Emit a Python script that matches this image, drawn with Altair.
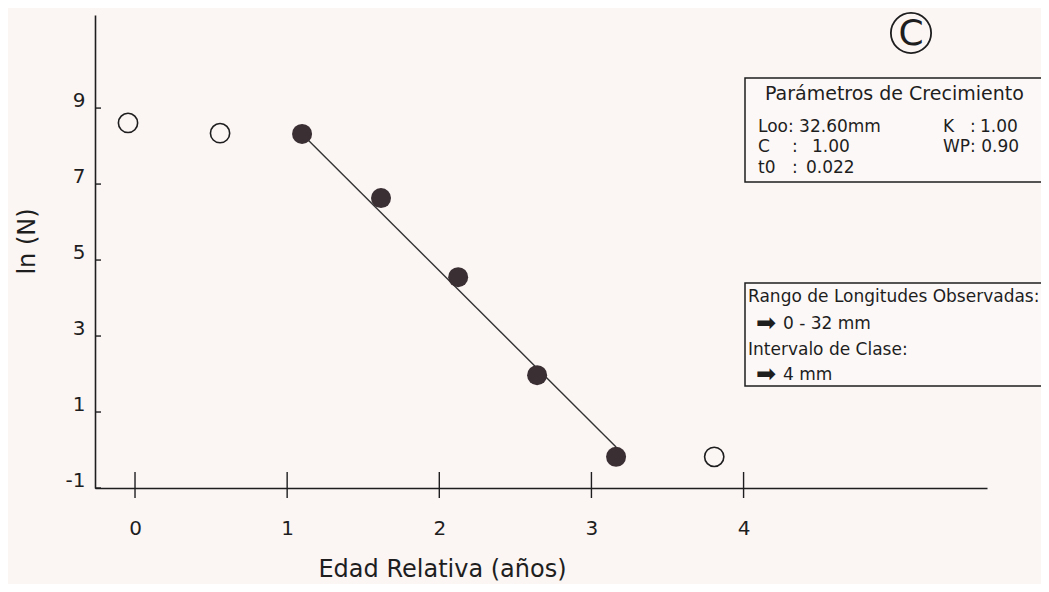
import altair as alt
import pandas as pd

# ---- data ----
open_x = [-0.046, 0.559, 3.807]
open_y = [8.61, 8.34, -0.18]
filled_x = [1.098, 1.617, 2.124, 2.643, 3.162]
filled_y = [8.32, 6.63, 4.55, 1.97, -0.18]
line_x = [1.098, 3.162]
line_y = [8.32, 0.08]
x_ticks = [0, 1, 2, 3, 4]
y_ticks = [-1, 1, 3, 5, 7, 9]

panel_letter = "C"
box1_title = "Parámetros de Crecimiento"
box1_rows = ["Loo: 32.60mm", "C", ":", "1.00", "t0", ":", "0.022",
             "K", ":", "1.00", "WP: 0.90"]
box2_rows = ["Rango de Longitudes Observadas:", "\u27a1\ufe0e", "0 - 32 mm",
             "Intervalo de Clase:", "\u27a1\ufe0e", "4 mm"]

BG = "#fbf5f4"
INK = "#1e1e1e"
FONT = "DejaVu Sans"
W, H = 892, 473

xs = alt.Scale(domain=[-0.263, 5.6], nice=False, zero=False)
ys = alt.Scale(domain=[-1, 11.45], nice=False, zero=False)

open_df = pd.DataFrame({"x": open_x, "y": open_y})
filled_df = pd.DataFrame({"x": filled_x, "y": filled_y})
line_df = pd.DataFrame({"x": line_x, "y": line_y})
xt_df = pd.DataFrame({"v": x_ticks})
yt_df = pd.DataFrame({"v": y_ticks})

xaxis = alt.Axis(values=x_ticks, ticks=False, tickSize=0, grid=False,
                 labelExpr="'' + datum.value",
                 domainColor=INK, domainWidth=1.6, labelFontSize=20,
                 labelFont=FONT, labelColor=INK, labelPadding=30,
                 title="Edad Relativa (años)", titleFont=FONT, titleFontSize=24,
                 titleFontWeight="normal", titleColor=INK, titleX=347, titleY=88,
                 titleBaseline="alphabetic", titleAlign="center")
yaxis = alt.Axis(values=y_ticks, ticks=False, tickSize=0, grid=False,
                 labelExpr="'' + datum.value",
                 domainColor=INK, domainWidth=1.6, labelFontSize=20,
                 labelFont=FONT, labelColor=INK, labelPadding=10, labelOffset=-8,
                 title="ln (N)", titleFont=FONT, titleFontSize=24,
                 titleFontWeight="normal", titleColor=INK, titleX=-68, titleY=226,
                 titleBaseline="middle", titleAlign="center", titleAngle=270)

base_line = alt.Chart(line_df).mark_line(color="#333333", strokeWidth=1.4).encode(
    x=alt.X("x:Q", scale=xs, axis=xaxis),
    y=alt.Y("y:Q", scale=ys, axis=yaxis),
)

xt = alt.Chart(xt_df).mark_rule(color=INK, strokeWidth=1.4).encode(
    x=alt.X("v:Q", scale=xs), y=alt.value(H - 16), y2=alt.value(H + 10))
yt = alt.Chart(yt_df).mark_rule(color=INK, strokeWidth=1.4).encode(
    y=alt.Y("v:Q", scale=ys), x=alt.value(0), x2=alt.value(6))

open_pts = alt.Chart(open_df).mark_point(shape="circle", size=370, filled=False,
                                         fill=BG, fillOpacity=1, stroke=INK,
                                         strokeWidth=1.6, opacity=1).encode(
    x=alt.X("x:Q", scale=xs), y=alt.Y("y:Q", scale=ys))
filled_pts = alt.Chart(filled_df).mark_point(shape="circle", size=400, filled=True,
                                             color="#3a2f33", opacity=1).encode(
    x=alt.X("x:Q", scale=xs), y=alt.Y("y:Q", scale=ys))

layers = [base_line, xt, yt, filled_pts, open_pts]

# ---- annotation boxes (layout only) ----
one = pd.DataFrame({"k": [0]})


def rect(x1, y1, x2, y2):
    return alt.Chart(one).mark_rect(fill="#fcf8f7", stroke=INK, strokeWidth=1.5).encode(
        x=alt.value(x1), y=alt.value(y1), x2=alt.value(x2), y2=alt.value(y2))


def txt(t, x, y, size=17, align="left", baseline="alphabetic"):
    return alt.Chart(one).mark_text(text=t, font=FONT, fontSize=size, color=INK,
                                    align=align, baseline=baseline).encode(
        x=alt.value(x), y=alt.value(y))


layers.append(rect(650, 63, 1000, 167))
layers.append(txt(box1_title, 670, 85, size=19))
b1_pos = [(663, 117), (663, 137), (697, 137), (717, 137), (663, 158), (697, 158),
          (711, 158), (848, 117), (875, 117), (885, 117), (848, 137)]
for t, (px, py) in zip(box1_rows, b1_pos):
    layers.append(txt(t, px, py))

layers.append(rect(650, 268, 1000, 371))
b2_pos = [(653, 287), (661, 316), (688, 314), (653, 340), (661, 367), (688, 365)]
b2_size = [17, 24, 17, 17, 24, 17]
for t, (px, py), s in zip(box2_rows, b2_pos, b2_size):
    layers.append(txt(t, px, py, size=s))

# circled panel letter
layers.append(alt.Chart(one).mark_point(shape="circle", size=1620, filled=False,
                                        stroke=INK, strokeWidth=1.8, opacity=1).encode(
    x=alt.value(816), y=alt.value(18)))
layers.append(txt(panel_letter, 816, 19, size=36, align="center", baseline="middle"))

chart = alt.layer(*layers).properties(
    width=W, height=H, autosize="none",
    padding={"left": 87, "top": 7, "right": 54, "bottom": 96},
    background=BG,
).configure_view(stroke=None)

chart.save("out.html", embed_options={"renderer": "svg", "actions": False})
